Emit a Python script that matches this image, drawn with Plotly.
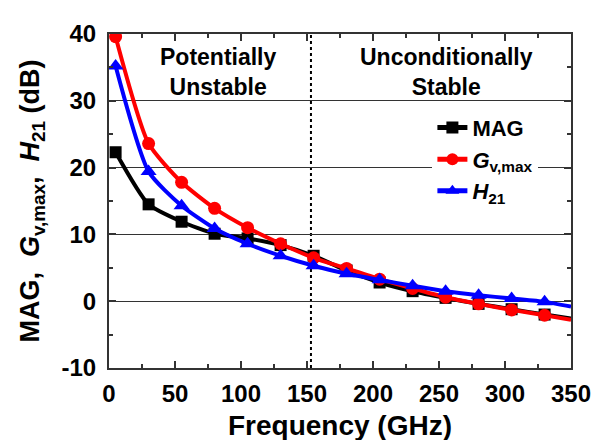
import plotly.graph_objects as go

freq = [5, 30, 55, 80, 105, 130, 155, 180, 205, 230, 255, 280, 305, 330, 350]
mag = [22.3, 14.5, 11.9, 10.1, 9.4, 8.4, 6.8, 4.6, 2.8, 1.5, 0.5, -0.4, -1.2, -2.0, -2.6]
gvmax = [39.6, 23.6, 17.8, 13.9, 11.0, 8.6, 6.5, 4.9, 3.3, 1.9, 0.6, -0.4, -1.3, -2.1, -2.8]
h21 = [35.2, 19.4, 14.3, 10.9, 8.6, 6.8, 5.3, 4.1, 3.2, 2.3, 1.5, 0.9, 0.4, -0.1, -0.8]
n_markers = 14  # markers at the first 14 frequencies; last value is where the curve ends

y_tickvals = [-10, 0, 10, 20, 30, 40]
y_ticktext = ["-10", "0", "10", "20", "30", "40"]
x_tickvals = [0, 50, 100, 150, 200, 250, 300, 350]
x_ticktext = ["0", "50", "100", "150", "200", "250", "300", "350"]
boundary_freq = 153

FONT = "Liberation Sans, Arial, sans-serif"

fig = go.Figure()

series = [
    ("MAG", mag, "#000000", "square", 12),
    ("<i>G</i><sub>v,max</sub>", gvmax, "#ff0000", "circle", 13),
    ("<i>H</i><sub>21</sub>", h21, "#0000ff", "triangle-up", 14),
]

for name, vals, col, sym, ms in series:
    sizes = [ms] * n_markers + [0] * (len(freq) - n_markers)
    fig.add_trace(go.Scatter(
        x=freq, y=vals, name=name, mode="lines+markers",
        line=dict(color=col, width=4, shape="spline", smoothing=0.6),
        marker=dict(symbol=sym, size=sizes, color=col, opacity=1, line=dict(width=0)),
    ))

fig.add_shape(type="line", x0=boundary_freq, x1=boundary_freq, y0=-10, y1=40,
              xref="x", yref="y",
              line=dict(color="black", width=2, dash="dot"), layer="below")

fig.add_annotation(x=83, y=34.3, xref="x", yref="y", showarrow=False,
                   text="Potentially<br>Unstable", align="center",
                   font=dict(family=FONT, size=23, color="black", weight="bold"))
fig.add_annotation(x=256, y=34.3, xref="x", yref="y", showarrow=False,
                   text="Unconditionally<br>Stable", align="center",
                   font=dict(family=FONT, size=23, color="black", weight="bold"))

axis_common = dict(
    showline=True, linecolor="#333333", linewidth=2, mirror="ticks",
    ticks="inside", ticklen=7, tickwidth=2, tickcolor="#333333",
    tickfont=dict(family=FONT, size=24, color="black", weight="bold"),
    zeroline=False,
)

fig.update_xaxes(
    range=[0, 350], tickmode="array", tickvals=x_tickvals, ticktext=x_ticktext,
    showgrid=False, ticklabelstandoff=3,
    minor=dict(ticks="inside", ticklen=4, tickwidth=2, tickcolor="#333333",
               tickmode="linear", tick0=0, dtick=25),
    title=dict(text="Frequency (GHz)",
               font=dict(family=FONT, size=28, color="black", weight="bold"), standoff=10),
    **axis_common,
)
fig.update_yaxes(
    range=[-10, 40], tickmode="array", tickvals=y_tickvals, ticktext=y_ticktext,
    showgrid=True, gridcolor="#333333", gridwidth=1, ticklabelstandoff=6,
    minor=dict(ticks="inside", ticklen=4, tickwidth=2, tickcolor="#333333",
               tickmode="linear", tick0=0, dtick=5, showgrid=False),
    title=dict(text="MAG,  <i>G</i><sub>v,max</sub>,  <i>H</i><sub>21</sub> (dB)",
               font=dict(family=FONT, size=27, color="black", weight="bold"), standoff=14),
    **axis_common,
)

fig.update_layout(
    width=610, height=440,
    margin=dict(l=101, r=47, t=14, b=80),
    paper_bgcolor="white", plot_bgcolor="white",
    showlegend=True,
    legend=dict(x=0.70, y=0.782, xanchor="left", yanchor="top",
                bgcolor="white", borderwidth=0,
                font=dict(family=FONT, size=22, color="black", weight="bold"),
                itemsizing="constant", tracegroupgap=0),
)

fig.write_html("out.html")
